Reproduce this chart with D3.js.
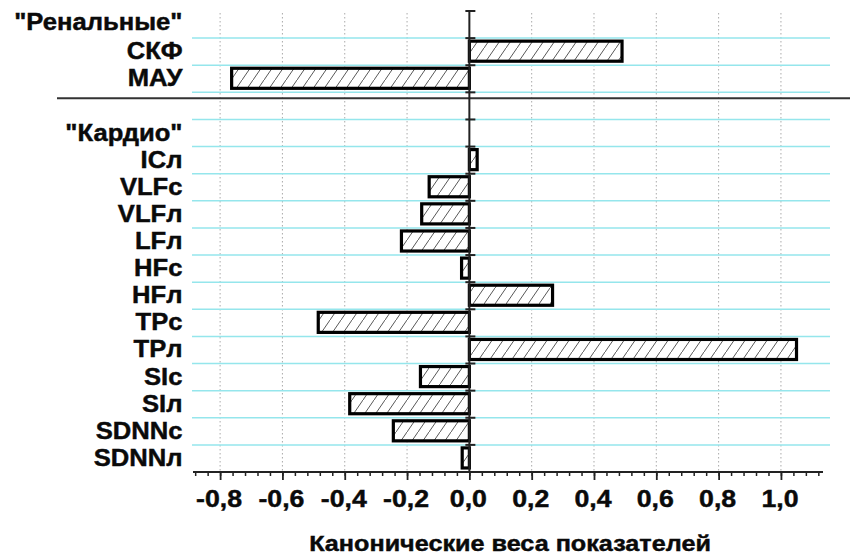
<!DOCTYPE html>
<html>
<head>
<meta charset="utf-8">
<script src="https://cdn.jsdelivr.net/npm/d3@7"></script>
<style>
  html, body { margin: 0; padding: 0; background: #fff; }
  svg { display: block; }
  text { font-family: "Liberation Sans", Arial, sans-serif; font-weight: bold; fill: #0a0a0a; stroke: #0a0a0a; stroke-width: 0.45px; }
</style>
</head>
<body>
<svg id="chart" width="850" height="555"></svg>
<script>
// Rows from top to bottom; "" is the spacer row between the two groups
const rows = ['"Ренальные"', 'СКФ', 'МАУ', '', '"Кардио"', 'ICл', 'VLFс', 'VLFл', 'LFл', 'HFс', 'HFл', 'TPс', 'TPл', 'SIс', 'SIл', 'SDNNс', 'SDNNл'];
// Indicators with a canonical weight
const indicators = ['СКФ', 'МАУ', 'ICл', 'VLFс', 'VLFл', 'LFл', 'HFс', 'HFл', 'TPс', 'TPл', 'SIс', 'SIл', 'SDNNс', 'SDNNл'];
const weights = [0.49, -0.763, 0.025, -0.129, -0.153, -0.218, -0.025, 0.267, -0.485, 1.05, -0.157, -0.384, -0.244, -0.023];
// Axis ticks
const majorTicks = [-0.8, -0.6, -0.4, -0.2, 0.0, 0.2, 0.4, 0.6, 0.8, 1.0];
const minorTicks = d3.range(-22, 29).map(i => +(i * 0.04).toFixed(2));
const xTitle = 'Канонические веса показателей';

const svg = d3.select('#chart');
const X0 = 193, X1 = 823, Y0 = 11, Y1 = 472;
const SX = 1.09; // horizontal stretch of the lettering

const x = d3.scaleLinear().domain([-0.887, 1.135]).range([X0, X1]);
const y = d3.scaleBand().domain(rows).range([Y0, Y1]).padding(0);
const bw = y.bandwidth();

const fmt = d3.formatLocale({ decimal: ',', thousands: ' ', grouping: [3], currency: ['', ''], minus: '-' }).format('.1f');

// hatch fill
const defs = svg.append('defs');
const pat = defs.append('pattern')
  .attr('id', 'hatch').attr('patternUnits', 'userSpaceOnUse')
  .attr('width', 11).attr('height', 16);
pat.append('rect').attr('width', 11).attr('height', 16).attr('fill', '#fff');
pat.append('path')
  .attr('d', 'M-1,17.45 L12,-1.45')
  .attr('stroke', '#444').attr('stroke-width', 0.9).attr('fill', 'none');

// vertical dotted grid
svg.append('g').selectAll('line')
  .data(majorTicks.filter(t => t !== 0))
  .join('line')
  .attr('x1', d => x(d)).attr('x2', d => x(d))
  .attr('y1', Y0 + 2).attr('y2', Y1)
  .attr('stroke', '#aaa').attr('stroke-width', 1).attr('stroke-dasharray', '1.5,2.5');

// horizontal cyan grid at row boundaries
svg.append('g').selectAll('line')
  .data(rows.slice(1))
  .join('line')
  .attr('x1', X0 - 1).attr('x2', X1 + 7)
  .attr('y1', d => y(d)).attr('y2', d => y(d))
  .attr('stroke', '#95e6ec').attr('stroke-width', 1.5);

// group separator
svg.append('line')
  .attr('x1', 57).attr('x2', 850)
  .attr('y1', y('') + 6).attr('y2', y('') + 6)
  .attr('stroke', '#333').attr('stroke-width', 2);

// bars
const barH = bw * 0.74;
svg.append('g').selectAll('rect')
  .data(indicators.map((n, i) => ({ name: n, value: weights[i] })))
  .join('rect')
  .attr('x', d => x(Math.min(0, d.value)))
  .attr('width', d => Math.abs(x(d.value) - x(0)))
  .attr('y', d => y(d.name) + (bw - barH) / 2 - 0.5)
  .attr('height', barH)
  .attr('fill', 'url(#hatch)')
  .attr('stroke', '#000').attr('stroke-width', 3.2);

// vertical axis at zero with ticks on row boundaries
const yAxis = svg.append('g');
yAxis.append('line')
  .attr('x1', x(0)).attr('x2', x(0)).attr('y1', Y0).attr('y2', Y1)
  .attr('stroke', '#222').attr('stroke-width', 2);
yAxis.selectAll('.yt')
  .data(rows)
  .join('line').attr('class', 'yt')
  .attr('x1', x(0) - 4).attr('x2', x(0) + 6)
  .attr('y1', d => y(d)).attr('y2', d => y(d))
  .attr('stroke', '#222').attr('stroke-width', 2);

// row labels
svg.append('g').selectAll('g')
  .data(rows.filter(r => r !== ''))
  .join('g')
  .attr('transform', (d, i) => `translate(182.5,${y(d) + bw / 2 + (i === 0 ? 5 : 7.5)}) scale(${SX},1)`)
  .append('text')
  .attr('text-anchor', 'end')
  .style('font-size', '23.5px')
  .text(d => d);

// bottom axis
const xAxisG = svg.append('g').attr('transform', `translate(0,${Y1})`);
xAxisG.call(d3.axisBottom(x).tickValues(minorTicks.filter(t => t >= -0.887 && t <= 1.135)).tickSize(4).tickFormat(''))
  .call(g => g.select('.domain').remove())
  .call(g => g.selectAll('line').attr('stroke', '#222').attr('stroke-width', 1.5));
xAxisG.append('g')
  .call(d3.axisBottom(x).tickValues(majorTicks).tickSize(8).tickSizeOuter(0).tickFormat(''))
  .call(g => g.select('.domain').attr('stroke', '#222').attr('stroke-width', 2).attr('d', `M${X0},0H${X1}`))
  .call(g => g.selectAll('line').attr('stroke', '#222').attr('stroke-width', 1.8));

// tick labels
svg.append('g').selectAll('g')
  .data(majorTicks)
  .join('g')
  .attr('transform', d => `translate(${x(d) - 1},506.5) scale(${SX},1)`)
  .append('text')
  .attr('text-anchor', 'middle')
  .style('font-size', '24.5px')
  .text(d => fmt(d));

// axis title
svg.append('g')
  .attr('transform', `translate(${(X0 + X1) / 2 + 2},550.5) scale(1.12,1)`)
  .append('text')
  .attr('text-anchor', 'middle')
  .style('font-size', '22.5px')
  .text(xTitle);
</script>
</body>
</html>
